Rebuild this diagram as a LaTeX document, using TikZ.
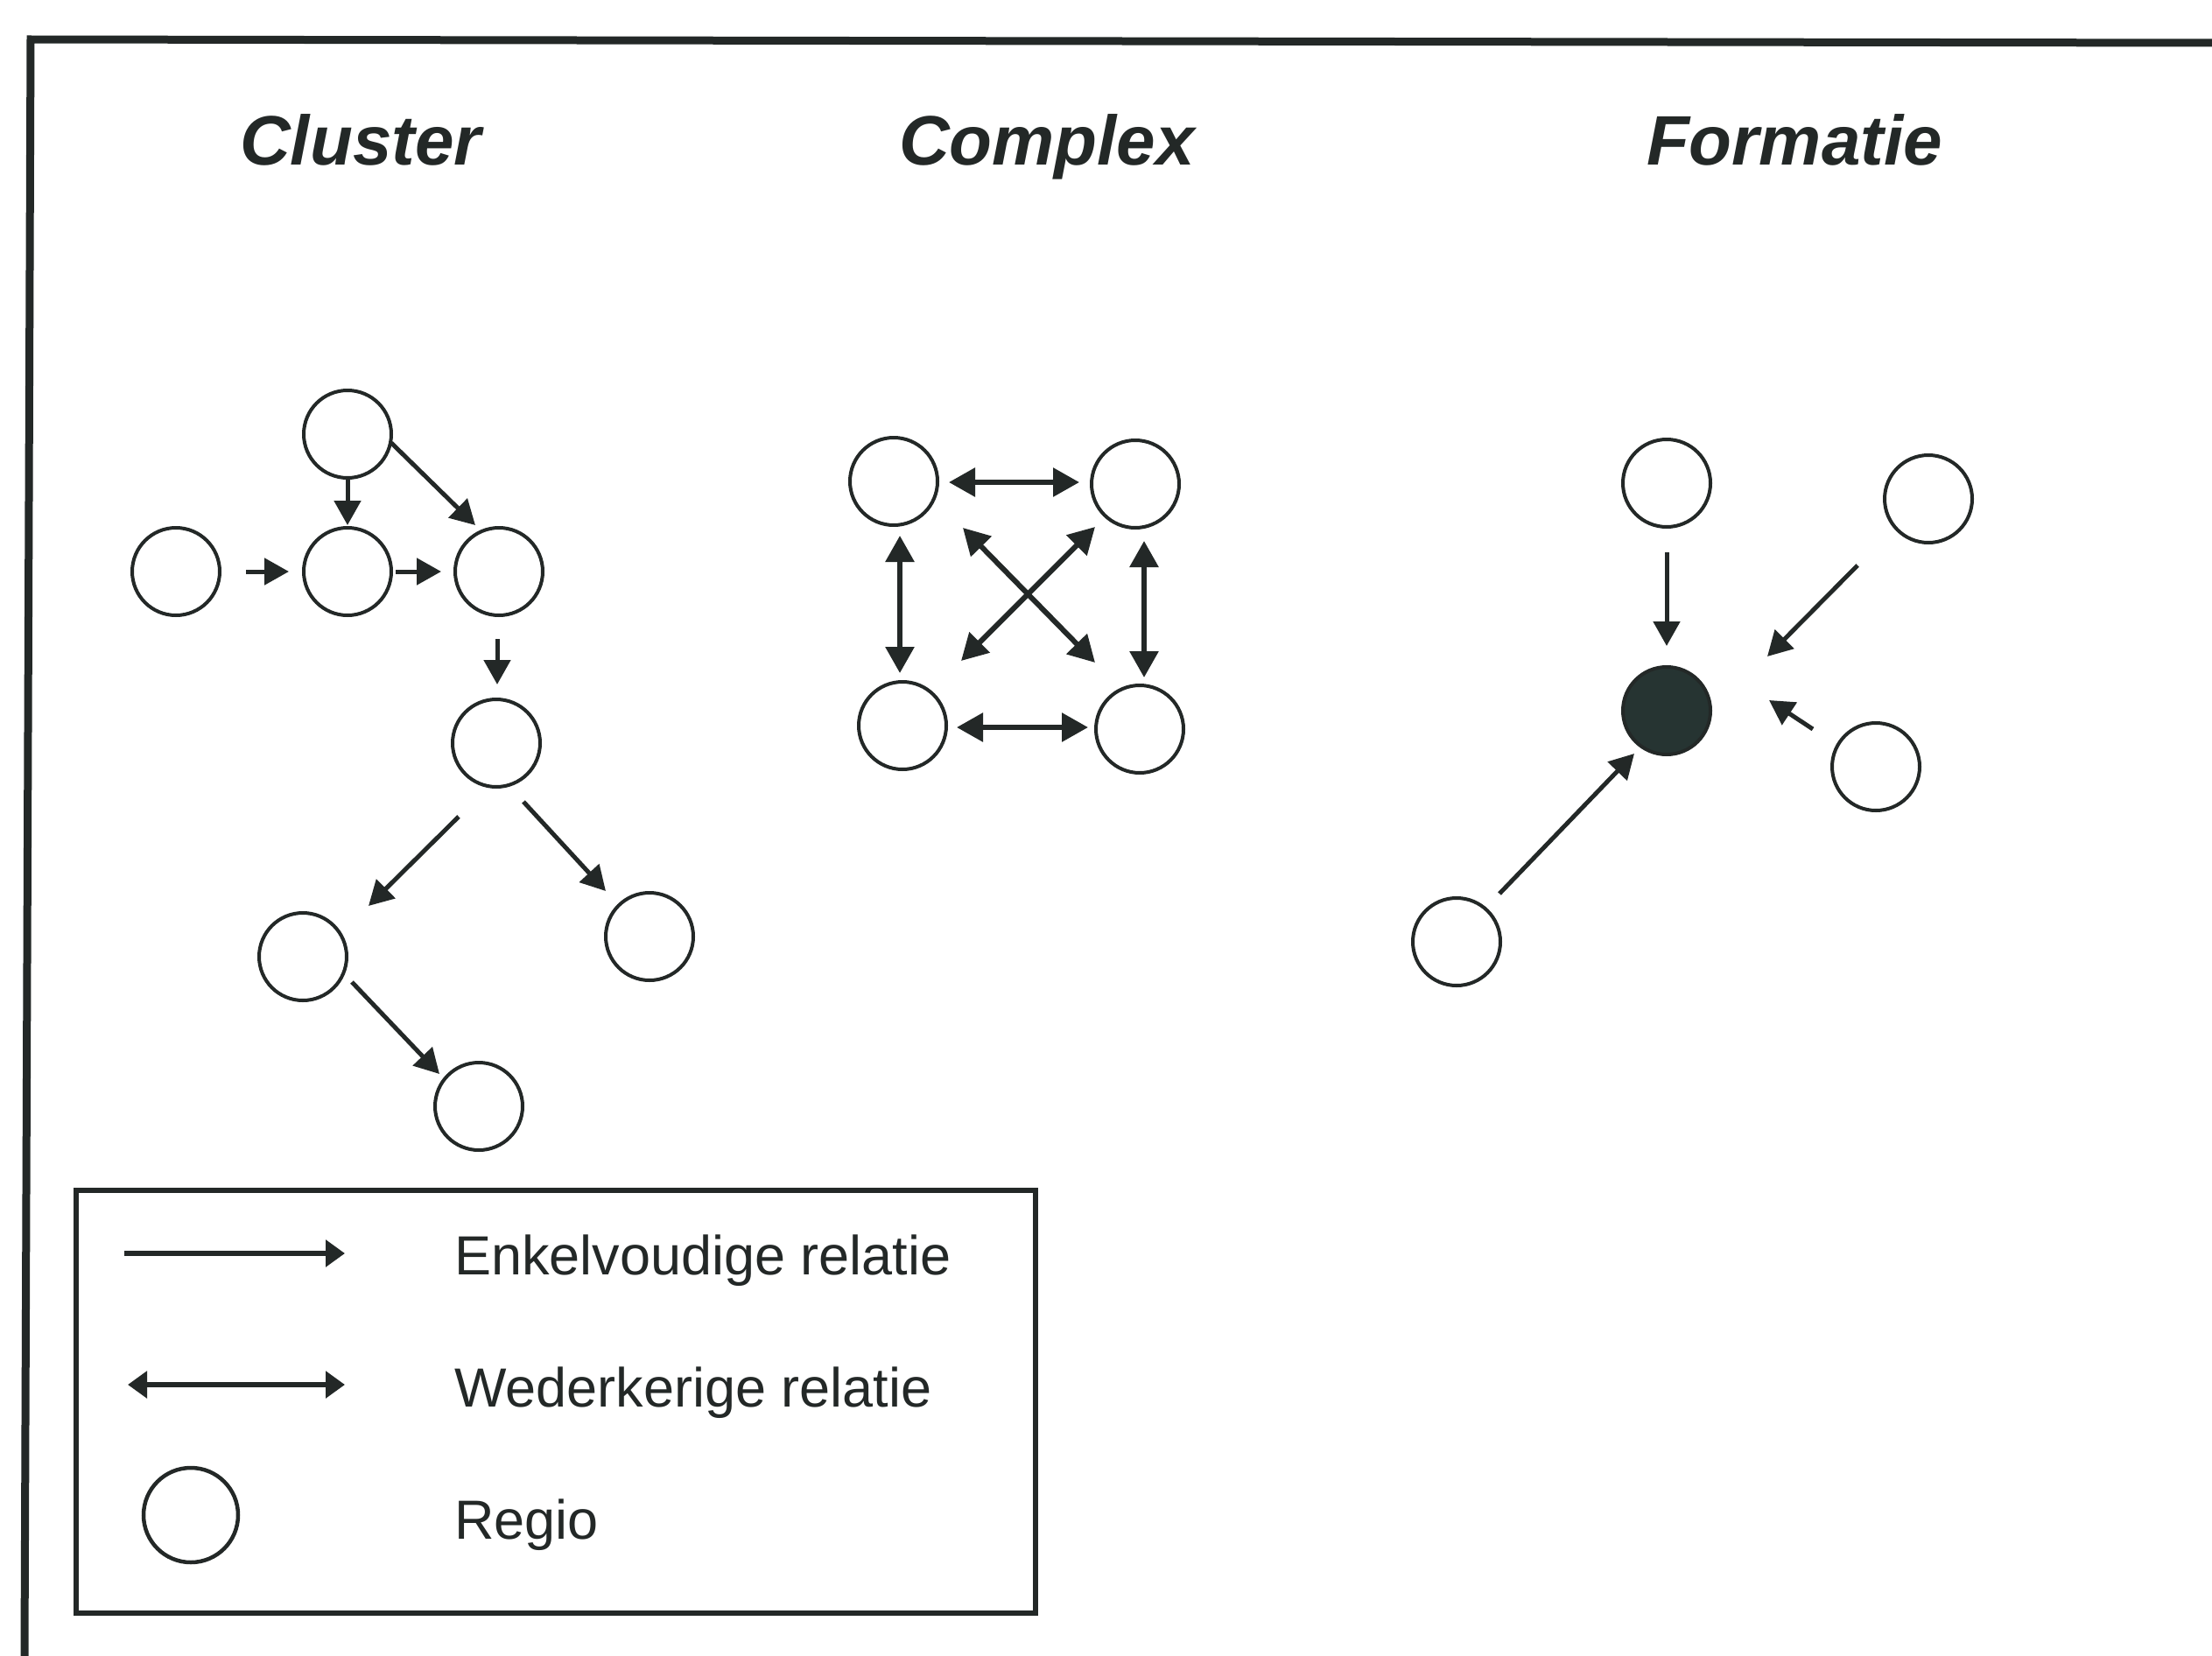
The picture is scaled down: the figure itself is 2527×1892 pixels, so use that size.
\documentclass[tikz,border=0pt]{standalone}
\usepackage{fontspec}
\setmainfont{Liberation Sans}
\usetikzlibrary{arrows.meta,calc}
\definecolor{ink}{RGB}{35,40,39}
\definecolor{blob}{RGB}{38,52,50}
\begin{document}
\begin{tikzpicture}[x=1pt,y=-1pt,
  regio/.style={circle,draw=ink,line width=4pt,minimum size=100pt,inner sep=0pt},
  arr/.style={draw=ink,line width=5pt,-{Triangle[length=28pt,width=30pt]}},
  darr/.style={draw=ink,line width=6pt,{Triangle[length=30pt,width=32pt]}-{Triangle[length=30pt,width=32pt]}},
  legarr/.style={draw=ink,line width=5.5pt,-{Triangle[length=22pt,width=30pt]}},
  legdarr/.style={draw=ink,line width=5.5pt,{Triangle[length=22pt,width=30pt]}-{Triangle[length=22pt,width=30pt]}},
  title/.style={font=\fontsize{80}{96}\selectfont\bfseries\itshape,text=ink,anchor=base,inner sep=0pt},
  legtext/.style={font=\fontsize{63}{76}\selectfont,text=ink,anchor=base west,inner sep=0pt},
  frame/.style={draw=ink,line width=9pt}]
\useasboundingbox (0,0) rectangle (2527,1892);
\fill[white] (0,0) rectangle (2527,1892);

% outer frame (top and left only)
\coordinate (fcorner) at (35,45);
\coordinate (fright) at (2527,49);
\coordinate (fbottom) at (28,1892);
\draw[frame] (fright) -- (fcorner) -- (fbottom);

% titles
\node[title] (tcluster) at (412,188) {Cluster};
\node[title] (tcomplex) at (1196,188) {Complex};
\node[title] (tformatie) at (2050,188) {Formatie};

% ---------------- Cluster ----------------
\node[regio] (c1) at (397,496) {};
\node[regio] (c2) at (201,653) {};
\node[regio] (c3) at (397,653) {};
\node[regio] (c4) at (570,653) {};
\node[regio] (c5) at (567,849) {};
\node[regio] (c6) at (346,1093) {};
\node[regio] (c7) at (742,1070) {};
\node[regio] (c8) at (547,1264) {};

\draw[arr] ($(c1)+(0,52)$) -- ($(c3)+(0,-53)$);
\draw[arr] ($(c1)+(50,10)$) -- ($(c4)+(-27,-53)$);
\draw[arr] ($(c2)+(80,0)$) -- ($(c3)+(-67,0)$);
\draw[arr] ($(c3)+(55,0)$) -- ($(c4)+(-66,0)$);
\draw[arr] ($(c4)+(-2,77)$) -- ($(c5)+(1,-67)$);
\draw[arr] ($(c5)+(-43,84)$) -- ($(c6)+(75,-58)$);
\draw[arr] ($(c5)+(31,67)$) -- ($(c7)+(-50,-52)$);
\draw[arr] ($(c6)+(56,29)$) -- ($(c8)+(-45,-37)$);

% ---------------- Complex ----------------
\node[regio] (k1) at (1021,550) {};
\node[regio] (k2) at (1297,553) {};
\node[regio] (k3) at (1031,829) {};
\node[regio] (k4) at (1302,833) {};

\draw[darr] ($(k1)+(63,1)$) -- ($(k2)+(-64,-2)$);
\draw[darr] ($(k3)+(62,2)$) -- ($(k4)+(-59,-2)$);
\draw[darr] ($(k1)+(7,62)$) -- ($(k3)+(-3,-60)$);
\draw[darr] ($(k2)+(10,65)$) -- ($(k4)+(5,-59)$);
\draw[darr] ($(k1)+(79,53)$) -- ($(k4)+(-51,-76)$);
\draw[darr] ($(k2)+(-46,49)$) -- ($(k3)+(67,-74)$);

% ---------------- Formatie ----------------
\node[regio] (f1) at (1904,552) {};
\node[regio] (f2) at (2203,570) {};
\node[regio,fill=blob] (fc) at (1904,812) {};
\node[regio] (f3) at (2143,876) {};
\node[regio] (f4) at (1664,1076) {};

\draw[arr] ($(f1)+(0,79)$) -- ($(fc)+(0,-74)$);
\draw[arr] ($(f2)+(-81,76)$) -- ($(fc)+(115,-62)$);
\draw[arr] ($(f3)+(-72,-43)$) -- ($(fc)+(117,-12)$);
\draw[arr] ($(f4)+(49,-55)$) -- ($(fc)+(-37,49)$);

% ---------------- Legend ----------------
\node[draw=ink,line width=6pt,minimum width=1096pt,minimum height=483pt,inner sep=0pt,anchor=north west] (legend) at (84,1357) {};
\coordinate (la1) at (142,1432);
\coordinate (lb1) at (394,1432);
\coordinate (la2) at (146,1582);
\coordinate (lb2) at (394,1582);
\draw[legarr] (la1) -- (lb1);
\draw[legdarr] (la2) -- (lb2);
\node[circle,draw=ink,line width=4.5pt,minimum size=108pt,inner sep=0pt] (lregio) at (218,1731) {};
\node[legtext] (t1) at (519,1456) {Enkelvoudige relatie};
\node[legtext] (t2) at (519,1607) {Wederkerige relatie};
\node[legtext] (t3) at (519,1758) {Regio};
\end{tikzpicture}
\end{document}
